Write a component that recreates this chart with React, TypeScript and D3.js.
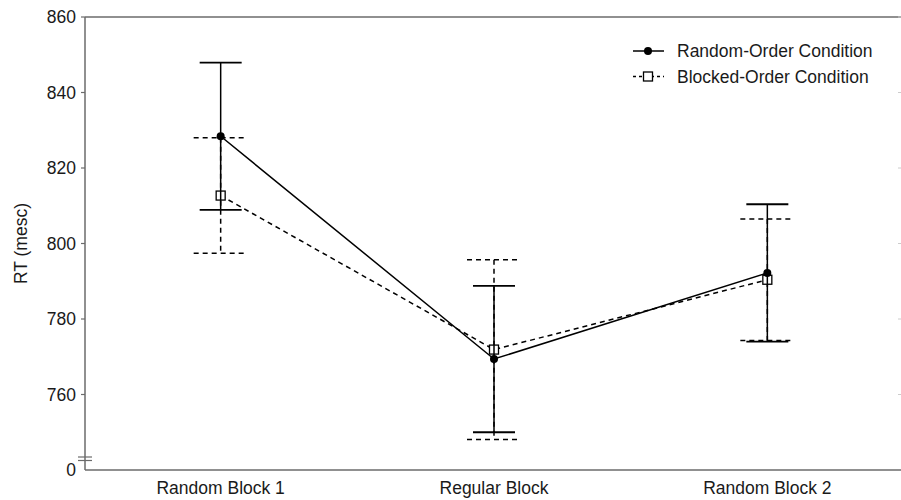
import { useEffect, useRef } from "react";
import * as d3 from "d3";

const categories = ["Random Block 1", "Regular Block", "Random Block 2"];
const randomMean = [828.4, 769.4, 792.2];
const randomErr = [19.5, 19.4, 18.2];
const blockedMean = [812.7, 771.9, 790.4];
const blockedErr = [15.3, 23.8, 16.1];
const yTicks = [760, 780, 800, 820, 840, 860];
const seriesNames = ["Random-Order Condition", "Blocked-Order Condition"];

const W = 901;
const H = 500;

export default function App() {
  const ref = useRef<SVGSVGElement>(null);

  useEffect(() => {
    const svg = d3.select(ref.current);
    svg.selectAll("*").remove();

    const left = 85, top = 17, bottom = 470, right = 904;
    const x = d3.scalePoint<string>().domain(categories).range([left - 1, right]).padding(0.5);
    const y = d3.scaleLinear().domain([740, 860]).range([bottom, top]);
    const font = "'Liberation Sans', Arial, sans-serif";
    const fs = 17.5;
    const txt = "#1a1a1a";
    const axisCol = "#6b6b6b";

    // frame
    svg.append("line").attr("x1", left).attr("x2", left).attr("y1", top).attr("y2", bottom)
      .attr("stroke", axisCol).attr("stroke-width", 1.5);
    svg.append("line").attr("x1", left).attr("x2", W).attr("y1", top).attr("y2", top)
      .attr("stroke", axisCol).attr("stroke-width", 1.5);
    svg.append("line").attr("x1", left).attr("x2", W).attr("y1", bottom).attr("y2", bottom)
      .attr("stroke", axisCol).attr("stroke-width", 1.5);

    // y ticks
    const yt = svg.append("g");
    yt.selectAll("line.t").data(yTicks).enter().append("line")
      .attr("x1", left - 4).attr("x2", left).attr("y1", d => y(d)).attr("y2", d => y(d))
      .attr("stroke", axisCol).attr("stroke-width", 1.2);
    yt.selectAll("line.r").data(yTicks).enter().append("line")
      .attr("x1", W - 3).attr("x2", W).attr("y1", d => y(d)).attr("y2", d => y(d))
      .attr("stroke", "#ccc").attr("stroke-width", 1);
    yt.selectAll("text").data(yTicks).enter().append("text")
      .attr("x", left - 9).attr("y", d => y(d)).attr("dy", "0.35em")
      .attr("text-anchor", "end").attr("font-family", font).attr("font-size", fs).attr("fill", txt)
      .text(d => d);
    svg.append("text").attr("x", left - 9).attr("y", bottom).attr("dy", "0.35em")
      .attr("text-anchor", "end").attr("font-family", font).attr("font-size", fs).attr("fill", txt)
      .text("0");

    // axis break
    [457, 460.5].forEach(v => {
      svg.append("line").attr("x1", left - 7).attr("x2", left + 7).attr("y1", v).attr("y2", v)
        .attr("stroke", axisCol).attr("stroke-width", 1.2);
    });

    svg.append("text").attr("transform", `translate(27,${(top + bottom) / 2}) rotate(-90)`)
      .attr("text-anchor", "middle").attr("font-family", font).attr("font-size", fs).attr("fill", txt)
      .text("RT (mesc)");

    // x labels
    svg.selectAll("text.x").data(categories).enter().append("text")
      .attr("x", d => x(d)!).attr("y", 494).attr("text-anchor", "middle")
      .attr("font-family", font).attr("font-size", fs).attr("fill", txt)
      .text(d => d);

    const line = d3.line<number>().x((_, i) => x(categories[i])!).y(d => y(d));

    // blocked (dashed)
    const gb = svg.append("g");
    categories.forEach((c, i) => {
      const cx = x(c)!;
      gb.append("line").attr("x1", cx).attr("x2", cx)
        .attr("y1", y(blockedMean[i] + blockedErr[i])).attr("y2", y(blockedMean[i] - blockedErr[i]))
        .attr("stroke", "#000").attr("stroke-width", 1.5).attr("stroke-dasharray", "5,4");
      [1, -1].forEach(s => {
        gb.append("line").attr("x1", cx - 27).attr("x2", cx + 27)
          .attr("y1", y(blockedMean[i] + s * blockedErr[i])).attr("y2", y(blockedMean[i] + s * blockedErr[i]))
          .attr("stroke", "#000").attr("stroke-width", 1.5).attr("stroke-dasharray", "5,4");
      });
    });
    gb.append("path").attr("d", line(blockedMean)!).attr("fill", "none")
      .attr("stroke", "#000").attr("stroke-width", 1.5).attr("stroke-dasharray", "5,4");

    // random (solid)
    const gr = svg.append("g");
    categories.forEach((c, i) => {
      const cx = x(c)!;
      gr.append("line").attr("x1", cx).attr("x2", cx)
        .attr("y1", y(randomMean[i] + randomErr[i])).attr("y2", y(randomMean[i] - randomErr[i]))
        .attr("stroke", "#000").attr("stroke-width", 1.5);
      [1, -1].forEach(s => {
        gr.append("line").attr("x1", cx - 21).attr("x2", cx + 21)
          .attr("y1", y(randomMean[i] + s * randomErr[i])).attr("y2", y(randomMean[i] + s * randomErr[i]))
          .attr("stroke", "#000").attr("stroke-width", 1.8);
      });
    });
    gr.append("path").attr("d", line(randomMean)!).attr("fill", "none")
      .attr("stroke", "#000").attr("stroke-width", 1.5);

    // markers
    gb.selectAll("rect").data(blockedMean).enter().append("rect")
      .attr("x", (_, i) => x(categories[i])! - 4.5).attr("y", d => y(d) - 4.5)
      .attr("width", 9).attr("height", 9).attr("fill", "#fff").attr("stroke", "#000").attr("stroke-width", 1.3);
    gr.selectAll("circle").data(randomMean).enter().append("circle")
      .attr("cx", (_, i) => x(categories[i])!).attr("cy", d => y(d)).attr("r", 4).attr("fill", "#000");

    // legend
    const lg = svg.append("g");
    seriesNames.forEach((n, i) => {
      const ly = 51 + i * 25.5;
      lg.append("line").attr("x1", 633).attr("x2", 664).attr("y1", ly).attr("y2", ly)
        .attr("stroke", "#000").attr("stroke-width", 1.5)
        .attr("stroke-dasharray", i === 1 ? "3,3" : null);
      if (i === 0) {
        lg.append("circle").attr("cx", 648).attr("cy", ly).attr("r", 4).attr("fill", "#000");
      } else {
        lg.append("rect").attr("x", 643.5).attr("y", ly - 4.5).attr("width", 9).attr("height", 9)
          .attr("fill", "#fff").attr("stroke", "#000").attr("stroke-width", 1.3);
      }
      lg.append("text").attr("x", 677).attr("y", ly).attr("dy", "0.35em")
        .attr("font-family", font).attr("font-size", fs).attr("fill", txt).text(n);
    });
  }, []);

  return (
    <svg ref={ref} width={W} height={H}
      style={{ position: "absolute", left: 0, top: 0, background: "#fff" }} />
  );
}
